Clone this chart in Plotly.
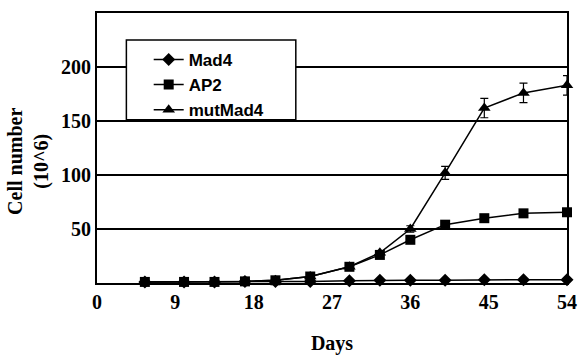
import plotly.graph_objects as go

days = [5.5, 10, 13.5, 17, 20.5, 24.5, 29, 32.5, 36, 40, 44.5, 49, 54]
mad4 = [1, 1, 1, 1.5, 1.5, 1.5, 2, 2.5, 2.5, 2.5, 3, 3, 3]
ap2 = [1, 1, 1, 1.5, 2.5, 6, 15, 26, 40, 54, 60, 64.5, 65.5]
mutmad4 = [1, 1, 1, 1.5, 2.5, 6, 15, 28, 50, 102, 162, 176, 183]
mutmad4_err = [0, 0, 0, 0, 0, 0, 0, 0, 3, 6, 9, 9, 9]

x_ticks = [0, 9, 18, 27, 36, 45, 54]
y_ticks = [50, 100, 150, 200]

fig = go.Figure()
line = dict(color="black", width=1.5)
fig.add_trace(go.Scatter(x=days, y=mad4, name="Mad4", mode="lines+markers", cliponaxis=False,
                         line=line, marker=dict(symbol="diamond", size=10, color="black")))
fig.add_trace(go.Scatter(x=days, y=ap2, name="AP2", mode="lines+markers", cliponaxis=False,
                         line=line, marker=dict(symbol="square", size=10, color="black")))
fig.add_trace(go.Scatter(x=days, y=mutmad4, name="mutMad4", mode="lines+markers", cliponaxis=False,
                         line=line, marker=dict(symbol="triangle-up", size=11, color="black"),
                         error_y=dict(type="data", array=mutmad4_err, color="black",
                                      thickness=1.2, width=4)))

# legend frame (white box)
fig.add_shape(type="rect", xref="paper", yref="paper", x0=0.0625, x1=0.423, y0=0.605, y1=0.9,
              fillcolor="white", line=dict(color="black", width=1.5), layer="above")

fig.add_annotation(text="<b>Cell number<br>(10^6)</b>", xref="paper", yref="paper",
                   x=-0.146, y=0.45, xanchor="center", yanchor="middle", textangle=-90,
                   showarrow=False, font=dict(family="Liberation Serif", size=20, color="black"))

fig.update_layout(
    width=580, height=355,
    margin=dict(l=97, r=3, t=13, b=71),
    paper_bgcolor="white", plot_bgcolor="white",
    font=dict(family="Liberation Serif", color="black", size=20),
    showlegend=True,
    legend=dict(x=0.11, y=0.893, xanchor="left", yanchor="top",
                bgcolor="rgba(0,0,0,0)", borderwidth=0,
                font=dict(family="Liberation Sans", size=17, color="black", weight="bold"),
                itemwidth=30, tracegroupgap=0),
    xaxis=dict(range=[0, 54], tickvals=x_ticks, ticktext=[f"<b>{v}</b>" for v in x_ticks],
               showgrid=False, zeroline=False, showline=True, linecolor="black",
               linewidth=2, mirror=True, ticks="", ticklabeloverflow="allow",
               title=dict(text="<b>Days</b>", font=dict(size=20), standoff=25)),
    yaxis=dict(range=[0, 250], tickvals=y_ticks, ticktext=[f"<b>{v}</b>" for v in y_ticks],
               showgrid=True, gridcolor="black", gridwidth=1.5, zeroline=False,
               showline=True, linecolor="black", linewidth=2, mirror=True, ticks=""),
)

fig.write_html("out.html", config={"displayModeBar": False},
               post_script="document.body.style.margin='0';")
